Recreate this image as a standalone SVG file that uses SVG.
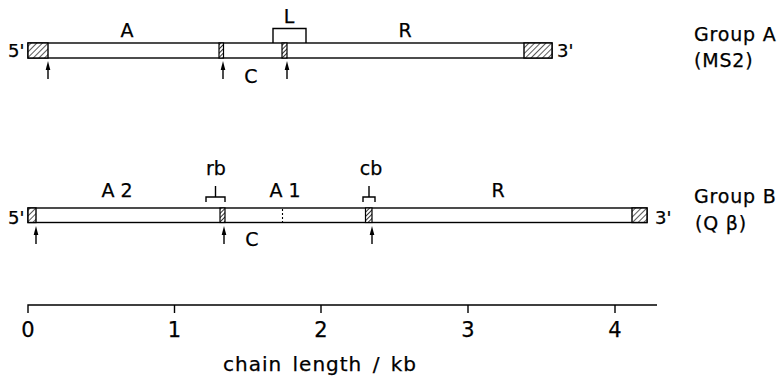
<svg xmlns="http://www.w3.org/2000/svg" width="782" height="378" viewBox="0 0 782 378">
  <defs>
    <pattern id="hatch" patternUnits="userSpaceOnUse" width="4" height="4" patternTransform="rotate(45)">
      <rect width="4" height="4" fill="#fff"/>
      <line x1="0" y1="0" x2="0" y2="4" stroke="#000" stroke-width="1.3"/>
    </pattern>
    <pattern id="hatchDense" patternUnits="userSpaceOnUse" width="3" height="3" patternTransform="rotate(45)">
      <rect width="3" height="3" fill="#fff"/>
      <line x1="0" y1="0" x2="0" y2="3" stroke="#000" stroke-width="1.6"/>
    </pattern>
    <!-- upward start-site arrow, origin at the tip of the shaft -->
    <g id="site">
      <line x1="0" y1="4" x2="0" y2="18" stroke="#000" stroke-width="1.4"/>
      <path d="M0,0 L2.3,9 L-2.3,9 Z" fill="#000"/>
    </g>
  </defs>
  <style>
    text { font-family: "DejaVu Sans", "Liberation Sans", sans-serif; fill: #000; stroke: #000; stroke-width: 0.25; }
    .lbl { font-size: 19px; }
    .end { font-size: 18px; }
    .grp { font-size: 19px; letter-spacing: 0.8px; }
    .num { font-size: 21px; text-anchor: middle; }
    .axis { font-size: 20px; letter-spacing: 1px; word-spacing: 3px; }
    .mid { text-anchor: middle; }
    .bar { fill: #fff; stroke: #000; stroke-width: 1.4; }
    .hat { fill: url(#hatch); stroke: #000; stroke-width: 1.4; }
    .mark { fill: url(#hatchDense); stroke: #000; stroke-width: 1.2; }
    .ln { fill: none; stroke: #000; stroke-width: 1.4; }
  </style>

  <!-- Group A genome (MS2) -->
  <g id="genomeA">
    <rect class="bar" x="28" y="43" width="524" height="15"/>
    <rect class="hat" x="28" y="43" width="20" height="15"/>
    <rect class="hat" x="524" y="43" width="28" height="15"/>
    <rect class="mark" x="219" y="43" width="4.5" height="15"/>
    <rect class="mark" x="282" y="43" width="5" height="15"/>
    <path class="ln" d="M273,43 V28.5 H306 V43"/>
    <text class="end" x="8" y="57">5'</text>
    <text class="end" x="557" y="57">3'</text>
    <text class="lbl mid" x="127" y="37">A</text>
    <text class="lbl mid" x="289" y="23">L</text>
    <text class="lbl mid" x="405" y="37">R</text>
    <text class="lbl mid" x="251" y="83">C</text>
    <use href="#site" x="48" y="61"/>
    <use href="#site" x="223" y="61"/>
    <use href="#site" x="287" y="61"/>
  </g>
  <g id="labelA">
    <text class="grp" x="694" y="41">Group  A</text>
    <text class="grp" x="694" y="67">(MS2)</text>
  </g>

  <!-- Group B genome (Qbeta) -->
  <g id="genomeB">
    <rect class="bar" x="28" y="208" width="619" height="14.5"/>
    <rect class="hat" x="28" y="208" width="8" height="14.5"/>
    <rect class="hat" x="632" y="208" width="15" height="14.5"/>
    <rect class="mark" x="220" y="208" width="5" height="14.5"/>
    <rect class="mark" x="365.5" y="208" width="6.5" height="14.5"/>
    <line x1="282.5" y1="209" x2="282.5" y2="222" stroke="#000" stroke-width="1.1" stroke-dasharray="2,2"/>
    <path class="ln" d="M206,202 V197 H225 V202 M215.5,197 V186"/>
    <path class="ln" d="M363,202 V197 H375 V202 M369,197 V186"/>
    <text class="end" x="8" y="224">5'</text>
    <text class="end" x="655" y="224">3'</text>
    <text class="lbl mid" x="117" y="197">A 2</text>
    <text class="lbl mid" x="216" y="175">rb</text>
    <text class="lbl mid" x="285" y="197">A 1</text>
    <text class="lbl mid" x="371" y="175">cb</text>
    <text class="lbl mid" x="498" y="197">R</text>
    <text class="lbl mid" x="252" y="246">C</text>
    <use href="#site" x="36" y="226"/>
    <use href="#site" x="224" y="226"/>
    <use href="#site" x="372" y="226"/>
  </g>
  <g id="labelB">
    <text class="grp" x="694" y="203">Group  B</text>
    <text class="grp" x="695" y="230">(Q β)</text>
  </g>

  <!-- length scale -->
  <g id="scale">
    <path class="ln" d="M28,313 V305 H657 M174.5,305 V313 M321,305 V313 M468,305 V313 M615,305 V313"/>
    <text class="num" x="28" y="337">0</text>
    <text class="num" x="174.5" y="337">1</text>
    <text class="num" x="321" y="337">2</text>
    <text class="num" x="468" y="337">3</text>
    <text class="num" x="615" y="337">4</text>
    <text class="axis" x="223" y="371">chain length / kb</text>
  </g>
</svg>
